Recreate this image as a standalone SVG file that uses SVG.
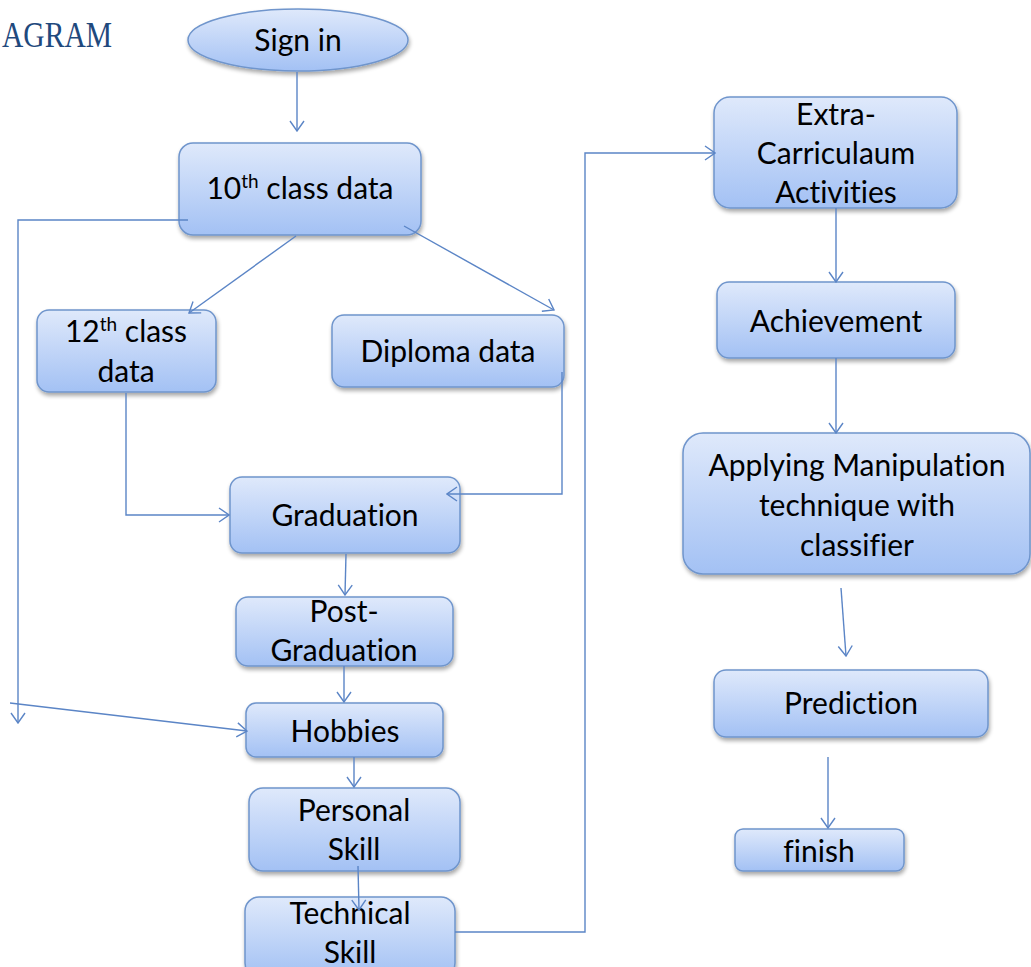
<svg xmlns="http://www.w3.org/2000/svg" width="1031" height="967" viewBox="0 0 1031 967">
<defs>
<linearGradient id="g" x1="0" y1="0" x2="0" y2="1">
<stop offset="0" stop-color="#dfe9fb"/>
<stop offset="1" stop-color="#a3c1f4"/>
</linearGradient>
<filter id="sh" x="-10%" y="-10%" width="130%" height="140%">
<feGaussianBlur in="SourceAlpha" stdDeviation="2"/>
<feOffset dx="1" dy="3" result="b"/>
<feComponentTransfer><feFuncA type="linear" slope="0.35"/></feComponentTransfer>
<feMerge><feMergeNode/><feMergeNode in="SourceGraphic"/></feMerge>
</filter>
<marker id="a" viewBox="0 0 12 16" refX="11" refY="8" markerWidth="12" markerHeight="16" markerUnits="userSpaceOnUse" orient="auto">
<path d="M1,1 L11,8 L1,15" fill="none" stroke="#5b85c6" stroke-width="1.4"/>
</marker>
</defs>
<style>
.n{fill:url(#g);stroke:#6f95cc;stroke-width:1.5;filter:url(#sh)}
.t{font-family:Lato,"Open Sans",sans-serif;font-size:30px;fill:#000;text-anchor:middle;font-variant-ligatures:none}
.c{fill:none;stroke:#5b85c6;stroke-width:1.4;marker-end:url(#a)}
</style>
<rect width="1031" height="967" fill="#fff"/>
<text x="2" y="47" textLength="110" lengthAdjust="spacingAndGlyphs" font-family="'Liberation Serif',serif" font-size="35" fill="#1f497d">AGRAM</text>

<g id="signin"><ellipse class="n" cx="298" cy="40" rx="110" ry="31"/><text class="t" x="298" y="51">Sign in</text></g>
<g id="class10"><rect class="n" x="179" y="143" width="242" height="92" rx="14"/><text class="t" x="300" y="199">10<tspan font-size="19" dy="-11">th</tspan><tspan dy="11"> class data</tspan></text></g>
<g id="class12"><rect class="n" x="37" y="310" width="179" height="82" rx="12"/><text class="t" x="126" y="342">12<tspan font-size="19" dy="-11">th</tspan><tspan dy="11"> class</tspan></text><text class="t" x="126" y="382">data</text></g>
<g id="diploma"><rect class="n" x="332" y="315" width="232" height="72" rx="12"/><text class="t" x="448" y="362">Diploma data</text></g>
<g id="graduation"><rect class="n" x="230" y="477" width="230" height="76" rx="12"/><text class="t" x="345" y="526">Graduation</text></g>
<g id="postgrad"><rect class="n" x="236" y="597" width="217" height="69" rx="12"/><text class="t" x="344" y="622">Post-</text><text class="t" x="344" y="661">Graduation</text></g>
<g id="hobbies"><rect class="n" x="246" y="703" width="197" height="54" rx="10"/><text class="t" x="345" y="742">Hobbies</text></g>
<g id="personal"><rect class="n" x="249" y="788" width="211" height="83" rx="14"/><text class="t" x="354" y="821">Personal</text><text class="t" x="354" y="860">Skill</text></g>
<g id="technical"><rect class="n" x="245" y="897" width="210" height="80" rx="14"/><text class="t" x="350" y="924">Technical</text><text class="t" x="350" y="963">Skill</text></g>
<g id="extra"><rect class="n" x="714" y="97" width="243" height="111" rx="16"/><text class="t" x="836" y="125">Extra-</text><text class="t" x="836" y="164">Carriculaum</text><text class="t" x="836" y="203">Activities</text></g>
<g id="achievement"><rect class="n" x="717" y="282" width="238" height="76" rx="12"/><text class="t" x="836" y="332">Achievement</text></g>
<g id="applying"><rect class="n" x="683" y="433" width="347" height="141" rx="20"/><text class="t" x="857" y="476">Applying Manipulation</text><text class="t" x="857" y="516">technique with</text><text class="t" x="857" y="556">classifier</text></g>
<g id="prediction"><rect class="n" x="714" y="670" width="274" height="67" rx="12"/><text class="t" x="851" y="714">Prediction</text></g>
<g id="finish"><rect class="n" x="735" y="829" width="169" height="42" rx="8"/><text class="t" x="819" y="862">finish</text></g>

<g id="connectors">
<path class="c" d="M297,72 L297,131"/>
<path class="c" d="M296,236 L189,313"/>
<path class="c" d="M404,226 L554,310"/>
<path class="c" d="M188,220 L18,220 L18,723"/>
<path class="c" d="M10,703 L247,731"/>
<path class="c" d="M126,393 L126,515 L229,515"/>
<path class="c" d="M562,372 L562,494 L447,494"/>
<path class="c" d="M346,554 L345,595"/>
<path class="c" d="M344,666 L344,702"/>
<path class="c" d="M354,757 L354,787"/>
<path class="c" d="M358,866 L359,910"/>
<path class="c" d="M455,932 L585,932 L585,153 L715,153"/>
<path class="c" d="M836,208 L836,282"/>
<path class="c" d="M836,358 L836,433"/>
<path class="c" d="M841,588 L846,656"/>
<path class="c" d="M828,757 L828,828"/>
</g>
</svg>
